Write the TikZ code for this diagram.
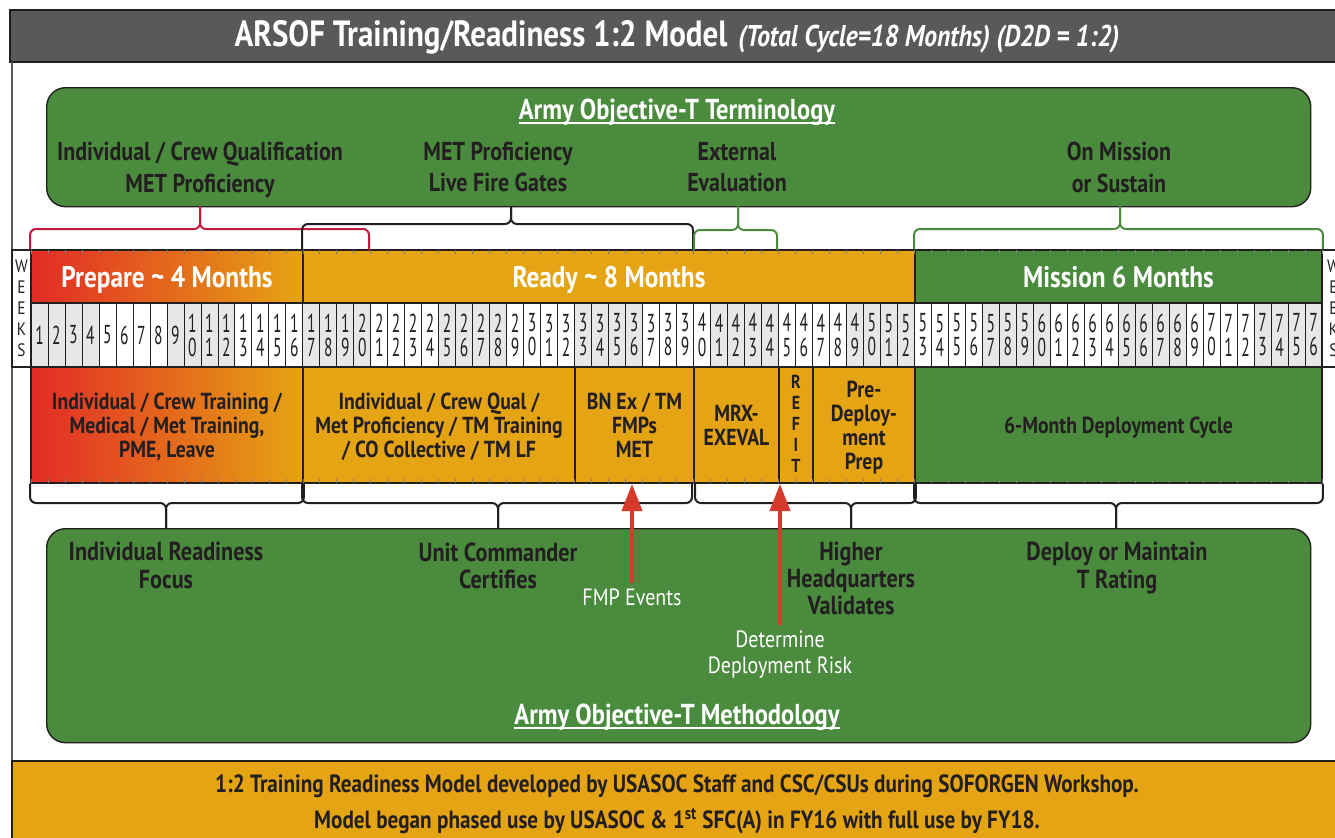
\documentclass[tikz,border=0pt]{standalone}
\usepackage{fontspec}
\setmainfont{PT Sans}[FakeStretch=0.85]
\newfontfamily\weekfont{PT Sans}[FakeStretch=0.6]
\usetikzlibrary{arrows.meta}
\definecolor{hdrgray}{HTML}{58595B}
\definecolor{armygreen}{HTML}{4A8B3D}
\definecolor{readyorange}{HTML}{E5A413}
\definecolor{prepred}{HTML}{E32B26}
\definecolor{inkdark}{HTML}{231F20}
\definecolor{arrowred}{HTML}{D63A2C}
\definecolor{weekgray}{HTML}{E6E7E8}
\definecolor{bracered}{HTML}{C4183C}
\def\pxu{0.85pt}
\newcommand\titlefont{\fontsize{31pt}{33pt}\selectfont\bfseries}
\newcommand\subtitlefont{\fontsize{25.5pt}{27pt}\selectfont\bfseries\itshape}
\tikzset{
  greenbox/.style={draw=inkdark, line width=1.2pt, fill=armygreen, rounded corners=16pt, anchor=north west},
  headtxt/.style={text=white, inner sep=0pt, font=\fontsize{24.5pt}{26pt}\selectfont\bfseries},
  termtxt/.style={text=inkdark, align=center, font=\fontsize{22pt}{26.4pt}\selectfont\bfseries, execute at end node=\vphantom{g}},
  methtxt/.style={text=inkdark, align=center, font=\fontsize{22.2pt}{23pt}\selectfont\bfseries, execute at end node=\vphantom{g}},
  notetxt/.style={text=white, align=center, font=\fontsize{20pt}{22pt}\selectfont, execute at end node=\vphantom{g}},
  phasebox/.style={draw=inkdark, line width=1.6pt, minimum height=53*\pxu, inner sep=0pt},
  phasetxt/.style={text=white, anchor=base, font=\fontsize{25.3pt}{27pt}\selectfont\bfseries},
  cellbox/.style={draw=inkdark, line width=1.6pt, minimum height=116*\pxu, inner sep=0pt},
  celltxt/.style={text=inkdark, align=center, font=\fontsize{19.7pt}{20.4pt}\selectfont\bfseries, execute at end node=\vphantom{g}},
  weekcell/.style={draw=inkdark, line width=0.6pt, minimum width=16.987*\pxu, minimum height=64*\pxu, inner sep=0pt, text=inkdark, align=center, font=\weekfont\fontsize{22pt}{20.5pt}\selectfont},
  weekscol/.style={draw=inkdark, line width=1.6pt, fill=white, minimum height=117*\pxu, inner sep=0pt, text=inkdark, align=center, font=\fontsize{15.3pt}{17.9pt}\selectfont},
  bracket/.style={line width=1.7pt, rounded corners=5pt},
  riskarrow/.style={arrowred, line width=3.4pt, -{Triangle[length=23pt,width=17pt]}},
  foottxt/.style={text=inkdark, align=center, font=\fontsize{21.2pt}{30.6pt}\selectfont\bfseries},
}

\begin{document}
\begin{tikzpicture}[x=0.85pt, y=-0.85pt]
  \useasboundingbox (0,0) rectangle (1335,837);
  \fill[white] (0,0) rectangle (1335,837);
  \fill[hdrgray] (10,10) rectangle (1345,62);
  \draw[inkdark, line width=1.2pt] (1345,10) -- (10,10) -- (10,62) -- (1345,62);
  \node[anchor=base, text=white] (title) at (677,46) {{\titlefont ARSOF Training/Readiness 1:2 Model}\hspace{9pt}{\subtitlefont (Total Cycle=18 Months) (D2D = 1:2)}};
  \draw[hdrgray, line width=1.5pt] (12,62) -- (12,761);
  \fill[readyorange] (12,761) rectangle (1345,845);
  \draw[inkdark, line width=1.5pt] (1345,761) -- (12,761) -- (12,845);
  \node[foottxt] (credit) at (677,804) {1:2 Training Readiness Model developed by USASOC Staff and CSC/CSUs during SOFORGEN Workshop.\\Model began phased use by USASOC \& 1\textsuperscript{st} SFC(A) in FY16 with full use by FY18.};

  \node[greenbox, minimum width=1264*\pxu, minimum height=119*\pxu] (terms) at (46,87) {};
  \node[headtxt] (termhd) at (677,112) {Army Objective-T Terminology};
  \draw[white, line width=1.3pt] ([yshift=-3pt]termhd.base west) -- ([yshift=-3pt]termhd.base east);
  \node[termtxt] (indq) at (200,170) {Individual / Crew Qualification\\MET Proficiency};
  \node[termtxt] (metlf) at (498,170) {MET Proficiency\\Live Fire Gates};
  \node[termtxt] (exteval) at (737,170) {External\\Evaluation};
  \node[termtxt] (onmission) at (1119,170) {On Mission\\or Sustain};

  \foreach \w in {1,...,76}{
    \pgfmathtruncatemacro\grp{mod(int((\w-1)/4),2)}
    \pgfmathtruncatemacro\wa{int(\w/10)}
    \pgfmathtruncatemacro\wb{mod(\w,10)}
    \ifnum\grp=0 \def\wkfill{weekgray}\else\def\wkfill{white}\fi
    \ifnum\w<10 \def\wktext{\w}\else\def\wktext{\wa\\\wb}\fi
    \node[weekcell, fill=\wkfill] (wk\w) at (31+\w*16.987-8.4935,335) {\wktext};
  }
  \node[weekscol, minimum width=19*\pxu] (weeksl) at (21.5,308.5) {W\\E\\E\\K\\S};
  \node[weekscol, minimum width=23*\pxu] (weeksr) at (1333.5,308.5) {W\\E\\E\\K\\S};

  \node[phasebox, minimum width=272*\pxu, left color=prepred, right color=readyorange] (prepare) at (167,276.5) {};
  \node[phasebox, minimum width=612*\pxu, fill=readyorange] (ready) at (609,276.5) {};
  \node[phasebox, minimum width=407*\pxu, fill=armygreen] (mission) at (1118.5,276.5) {};
  \node[phasetxt] (prepare-t) at (167,287) {Prepare \textasciitilde{} 4 Months};
  \node[phasetxt] (ready-t) at (609,287) {Ready \textasciitilde{} 8 Months};
  \node[phasetxt] (mission-t) at (1118.5,287) {Mission 6 Months};

  \node[cellbox, minimum width=272*\pxu, left color=prepred, right color=readyorange] (indtrain) at (167,425) {};
  \node[cellbox, minimum width=272*\pxu, fill=readyorange] (crewqual) at (439,425) {};
  \node[cellbox, minimum width=119*\pxu, fill=readyorange] (bnex) at (634.5,425) {};
  \node[cellbox, minimum width=85*\pxu, fill=readyorange] (mrx) at (736.5,425) {};
  \node[cellbox, minimum width=34*\pxu, fill=readyorange] (refit) at (796,425) {};
  \node[cellbox, minimum width=102*\pxu, fill=readyorange] (predeploy) at (864,425) {};
  \node[cellbox, minimum width=407*\pxu, fill=armygreen] (deploycycle) at (1118.5,425) {};
  \node[celltxt] (indtrain-t) at ([yshift=-2pt]indtrain) {Individual / Crew Training /\\Medical / Met Training,\\PME, Leave};
  \node[celltxt] (crewqual-t) at ([yshift=-2pt]crewqual) {Individual / Crew Qual /\\Met Proficiency / TM Training\\/ CO Collective / TM LF};
  \node[celltxt] (bnex-t) at ([yshift=-2pt]bnex) {BN Ex / TM\\FMPs\\MET};
  \node[celltxt] (mrx-t) at ([yshift=-2pt]mrx) {MRX-\\EXEVAL};
  \node[celltxt, font=\fontsize{16pt}{17.9pt}\selectfont\bfseries] (refit-t) at ([yshift=-1pt]refit) {R\\E\\F\\I\\T};
  \node[celltxt] (predeploy-t) at ([yshift=-2pt]predeploy) {Pre-\\Deploy-\\ment\\Prep};
  \node[celltxt] (deploycycle-t) at ([yshift=-2pt]deploycycle) {6-Month Deployment Cycle};

  \foreach \t in {0,...,76}{
    \draw[inkdark!60, line width=0.5pt] (31+\t*16.987,250) -- ++(0,4);
    \draw[inkdark!60, line width=0.5pt] (31+\t*16.987,483) -- ++(0,-4);
  }

  \draw[bracket, bracered] (prepare.north west) |- (200,229) -- (200,206);
  \draw[bracket, bracered] (369,250) |- (200,229) -- (200,206);
  \draw[bracket, inkdark] (ready.north west) |- (511,224) -- (511,206);
  \draw[bracket, inkdark] (693,250) |- (511,224) -- (511,206);
  \draw[bracket, armygreen] (694,250) |- (738,230) -- (738,206);
  \draw[bracket, armygreen] (777,250) |- (738,230) -- (738,206);
  \draw[bracket, armygreen] (mission.north west) |- (1120,229) -- (1120,206);
  \draw[bracket, armygreen] (mission.north east) |- (1120,229) -- (1120,206);

  \draw[bracket, inkdark] (indtrain.south west) |- (166,503) -- (166,528);
  \draw[bracket, inkdark] (indtrain.south east) |- (166,503) -- (166,528);
  \draw[bracket, inkdark] (crewqual.south west) |- (498,503) -- (498,528);
  \draw[bracket, inkdark] (692,483) |- (498,503) -- (498,528);
  \draw[bracket, inkdark] (695,483) |- (851,503) -- (851,528);
  \draw[bracket, inkdark] (predeploy.south east) |- (851,503) -- (851,528);
  \draw[bracket, inkdark] (deploycycle.south west) |- (1116,503) -- (1116,528);
  \draw[bracket, inkdark] (deploycycle.south east) |- (1116,503) -- (1116,528);

  \node[greenbox, minimum width=1264*\pxu, minimum height=214*\pxu] (meth) at (46,528) {};
  \node[methtxt] (indfocus) at (166,568) {Individual Readiness\\Focus};
  \node[methtxt] (unitcert) at (498,568) {Unit Commander\\Certifies};
  \node[methtxt] (hqvalid) at (851,581) {Higher\\Headquarters\\Validates};
  \node[methtxt] (deploymaint) at (1117,568) {Deploy or Maintain\\T Rating};
  \node[notetxt] (fmp) at (632,600) {FMP Events};
  \node[notetxt] (risk) at (780,655) {Determine\\Deployment Risk};
  \node[headtxt] (methhd) at (677,717) {Army Objective-T Methodology};
  \draw[white, line width=1.3pt] ([yshift=-3pt]methhd.base west) -- ([yshift=-3pt]methhd.base east);

  \draw[riskarrow] ([yshift=2pt]fmp.north) -- (fmp.north |- bnex.south);
  \draw[riskarrow] ([yshift=2pt]risk.north) -- (risk.north |- mrx.south);
\end{tikzpicture}
\end{document}
